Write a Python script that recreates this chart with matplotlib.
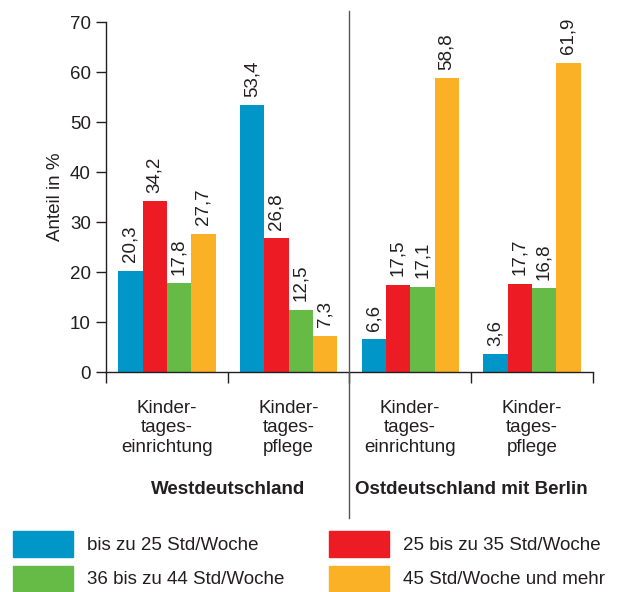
import matplotlib.pyplot as plt
import numpy as np

plt.rcParams['font.family'] = ['Liberation Sans', 'DejaVu Sans']

categories = ['Kinder-\ntages-\neinrichtung', 'Kinder-\ntages-\npflege',
              'Kinder-\ntages-\neinrichtung', 'Kinder-\ntages-\npflege']
regions = ['Westdeutschland', 'Ostdeutschland mit Berlin']
series = ['bis zu 25 Std/Woche', '25 bis zu 35 Std/Woche',
          '36 bis zu 44 Std/Woche', '45 Std/Woche und mehr']
bis25 = [20.3, 53.4, 6.6, 3.6]
bis35 = [34.2, 26.8, 17.5, 17.7]
bis44 = [17.8, 12.5, 17.1, 16.8]
ab45 = [27.7, 7.3, 58.8, 61.9]
values = [bis25, bis35, bis44, ab45]
colors = ['#0096c8', '#ed1c24', '#66bb46', '#fbb125']
dark = '#231f20'
W, H = 617, 592

fig = plt.figure(figsize=(6.17, 5.92), dpi=100)
ax = fig.add_axes([0.1718, 0.3716, 0.7888, 0.5912])

x = np.arange(len(categories))
w = 0.2
for i, (vals, c) in enumerate(zip(values, colors)):
    pos = x + (i - 1.5) * w
    ax.bar(pos, vals, width=w, color=c, label=series[i])
    for px, v in zip(pos, vals):
        ax.annotate(f'{v:.1f}'.replace('.', ','), (px, v), xytext=(0, 6),
                    textcoords='offset points', rotation=90,
                    ha='center', va='bottom', fontsize=13.5, color=dark)

ax.set_xlim(-0.5, 3.5)
ax.set_ylim(0, 70)
ax.set_yticks(range(0, 71, 10))
ax.tick_params(axis='y', length=7, width=1, colors=dark, labelsize=13.5, pad=4)
ax.set_xticks(np.arange(-0.5, 3.6, 1))
ax.set_xticklabels([])
ax.tick_params(axis='x', which='major', length=8, width=1, color=dark)
ax.set_xticks(x, minor=True)
ax.set_xticklabels(categories, minor=True, fontsize=13.5, color=dark,
                   linespacing=1.2)
ax.tick_params(axis='x', which='minor', length=0, pad=20)
for s in ['top', 'right']:
    ax.spines[s].set_visible(False)
for s in ['left', 'bottom']:
    ax.spines[s].set_color(dark)
    ax.spines[s].set_linewidth(1)
ax.set_ylabel('Anteil in %', fontsize=13.5, color=dark, labelpad=4)

# region labels and separator
for xc, r in zip([0.5, 2.5], regions):
    fig.text(ax.transData.transform((xc, 0))[0] / W, 1 - 489 / H,
             r, ha='center', va='center', fontsize=13.5, fontweight='bold',
             color=dark)
fig.add_artist(plt.Line2D([349 / W, 349 / W], [1 - 11 / H, 1 - 518 / H],
                          color='#555555', linewidth=1))

# legend, two rows
leg_x = [13, 329]
leg_y = [531, 566]
for i, (lab, c) in enumerate(zip(series, colors)):
    lx = leg_x[i % 2]
    ly = leg_y[i // 2]
    fig.add_artist(plt.Rectangle((lx / W, 1 - (ly + 26) / H), 60 / W, 26 / H,
                                 color=c, transform=fig.transFigure))
    fig.text((lx + 74) / W, 1 - (ly + 14) / H, lab, ha='left', va='center',
             fontsize=13.5, color=dark)

fig.savefig('out.png', dpi=100)
